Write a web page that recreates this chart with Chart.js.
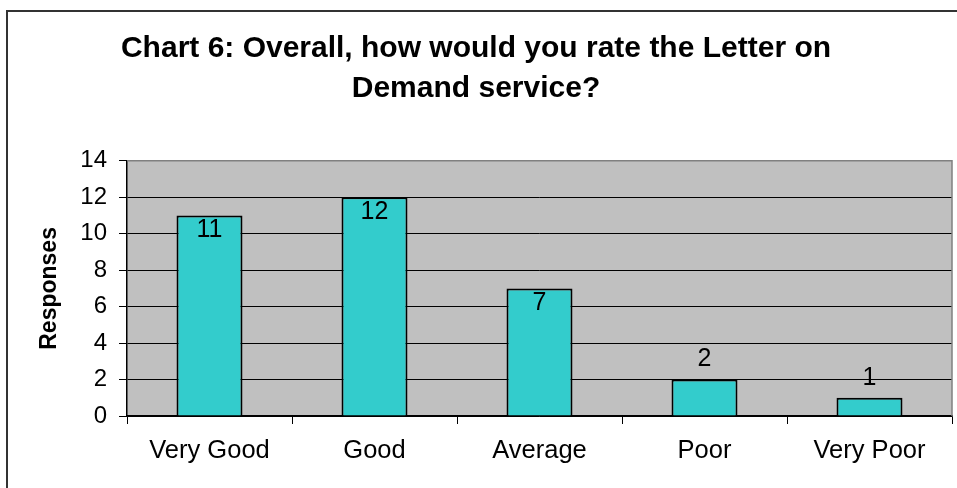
<!DOCTYPE html>
<html>
<head>
<meta charset="utf-8">
<script src="https://cdn.jsdelivr.net/npm/chart.js@4.4.1/dist/chart.umd.min.js"></script>
<style>
  body { margin: 0; background: #fff; }
  #wrap { width: 957px; height: 488px; }
</style>
</head>
<body>
<div id="wrap"><canvas id="chart6"></canvas></div>
<script>
// Chart 6: overall rating of the Letter on Demand service
const categories6 = ['Very Good', 'Good', 'Average', 'Poor', 'Very Poor'];
const responses6 = [11, 12, 7, 2, 1];
const yTicks6 = [0, 2, 4, 6, 8, 10, 12, 14];

const fontFamily = "'Liberation Sans', Arial, sans-serif";

// white page + frame + grey plot area
const backdrop = {
    id: 'backdrop',
    beforeDraw(chart) {
        const { ctx, chartArea: a } = chart;
        ctx.save();
        ctx.fillStyle = '#ffffff';
        ctx.fillRect(0, 0, chart.width, chart.height);
        ctx.strokeStyle = '#333333';
        ctx.lineWidth = 2;
        ctx.beginPath();
        ctx.moveTo(7, chart.height + 5);
        ctx.lineTo(7, 11);
        ctx.lineTo(chart.width + 5, 11);
        ctx.stroke();
        ctx.fillStyle = '#c0c0c0';
        ctx.fillRect(a.left, a.top, a.right - a.left, a.bottom - a.top);
        ctx.restore();
    },
    beforeDatasetsDraw(chart) {
        const { ctx, chartArea: a } = chart;
        ctx.save();
        ctx.strokeStyle = '#808080';
        ctx.lineWidth = 1.5;
        ctx.beginPath();
        ctx.moveTo(a.left, a.top);
        ctx.lineTo(a.right, a.top);
        ctx.lineTo(a.right, a.bottom);
        ctx.stroke();
        ctx.restore();
    }
};

// value labels: inside the top of tall bars, above short ones
const valueLabels = {
    id: 'valueLabels',
    afterDatasetsDraw(chart) {
        const { ctx } = chart;
        const meta = chart.getDatasetMeta(0);
        ctx.save();
        ctx.font = '25px ' + fontFamily;
        ctx.fillStyle = '#000';
        ctx.textAlign = 'center';
        ctx.textBaseline = 'middle';
        meta.data.forEach((bar, i) => {
            const v = responses6[i];
            const y = v >= 5 ? bar.y + 15 : bar.y - 20;
            ctx.fillText(String(v), bar.x, y);
        });
        ctx.restore();
    }
};

const ctx6 = document.getElementById('chart6').getContext('2d');
const chart6 = new Chart(ctx6, {
    type: 'bar',
    data: {
        labels: categories6,
        datasets: [{
            label: 'Responses',
            data: responses6,
            backgroundColor: '#33cccc',
            borderColor: '#000000',
            borderWidth: 2,
            barPercentage: 0.4,
            categoryPercentage: 1
        }]
    },
    options: {
        responsive: true,
        maintainAspectRatio: false,
        animation: false,
        layout: { padding: { left: 0, right: 5, top: 0, bottom: 0 } },
        plugins: {
            legend: { display: false },
            tooltip: { enabled: false },
            title: {
                display: true,
                text: ['Chart 6: Overall, how would you rate the Letter on', 'Demand service?'],
                color: '#000',
                font: { family: fontFamily, size: 30, weight: 'bold', lineHeight: 1.33 },
                padding: { top: 29, bottom: 52 }
            }
        },
        scales: {
            x: {
                grid: {
                    display: true,
                    offset: true,
                    drawOnChartArea: false,
                    drawTicks: true,
                    tickLength: 8,
                    tickColor: '#000',
                    tickWidth: 1
                },
                border: { color: '#000', width: 1.5 },
                ticks: {
                    color: '#000',
                    font: { family: fontFamily, size: 25.5 },
                    padding: 12,
                    maxRotation: 0
                },
                afterFit(scale) { scale.height = 72; }
            },
            y: {
                min: 0,
                max: 14,
                afterBuildTicks(scale) { scale.ticks = yTicks6.map(v => ({ value: v })); },
                grid: {
                    color: ctx => (ctx.tick && ctx.tick.value === 14 ? '#808080' : '#000'),
                    lineWidth: 1,
                    drawTicks: true,
                    tickLength: 8,
                    tickColor: '#000'
                },
                border: { color: '#000', width: 1.5 },
                ticks: {
                    color: '#000',
                    font: { family: fontFamily, size: 24 },
                    padding: 12
                },
                title: {
                    display: true,
                    text: 'Responses',
                    color: '#000',
                    font: { family: fontFamily, size: 23, weight: 'bold' },
                    padding: { top: 36, bottom: 0 }
                },
                afterFit(scale) { scale.width = 127; }
            }
        }
    },
    plugins: [backdrop, valueLabels]
});
</script>
</body>
</html>
